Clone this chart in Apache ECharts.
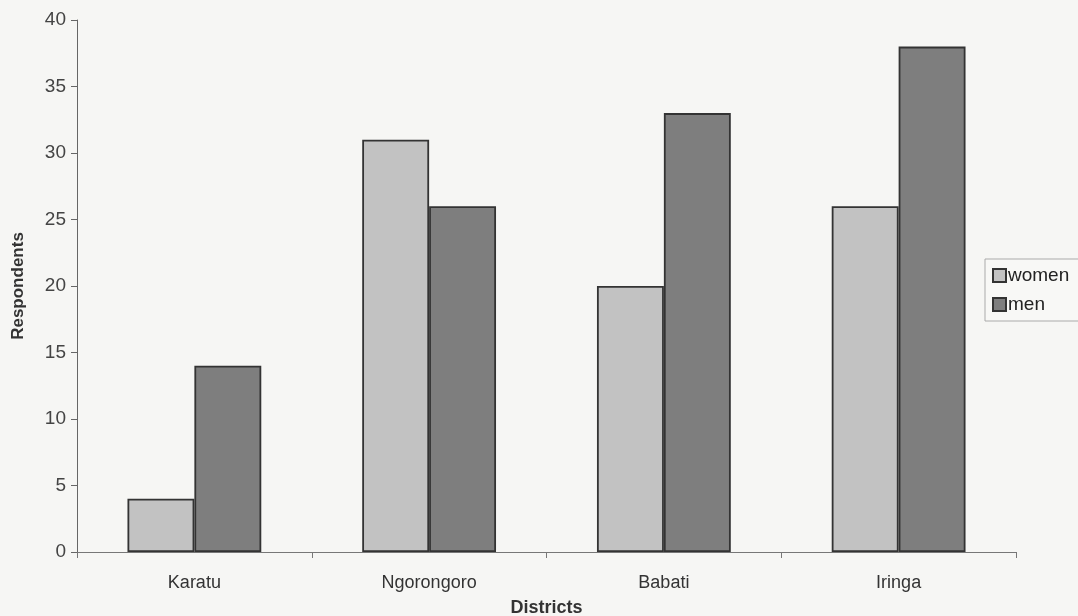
<!DOCTYPE html>
<html>
<head>
<meta charset="utf-8">
<script src="https://cdn.jsdelivr.net/npm/echarts@6/dist/echarts.min.js"></script>
<style>
html,body{margin:0;padding:0;background:#f6f6f4;}
#chart{width:1078px;height:616px;}
</style>
</head>
<body>
<div id="chart"></div>
<script>
var categories = ['Karatu', 'Ngorongoro', 'Babati', 'Iringa'];
var women = [4, 31, 20, 26];
var men = [14, 26, 33, 38];
var yTicks = [0, 5, 10, 15, 20, 25, 30, 35, 40];

var chart = echarts.init(document.getElementById('chart'));
var font = '"Liberation Sans", Arial, sans-serif';
chart.setOption({
  backgroundColor: '#f6f6f4',
  animation: false,
  grid: {left: 77, right: 62, top: 20, bottom: 64, containLabel: false, outerBoundsMode: 'none'},
  legend: {
    data: ['women', 'men'],
    orient: 'vertical',
    left: 985, top: 259,
    itemWidth: 13, itemHeight: 13, itemGap: 10,
    padding: [7, 12, 7, 7],
    borderColor: '#aaa', borderWidth: 1,
    backgroundColor: '#f8f8f6',
    icon: 'rect',
    textStyle: {fontFamily: font, fontSize: 19, color: '#222', padding: [0, 0, 0, -3]}
  },
  xAxis: {
    type: 'category',
    data: categories,
    name: 'Districts',
    nameLocation: 'middle',
    nameGap: 47,
    nameTextStyle: {fontFamily: font, fontSize: 18, fontWeight: 'bold', color: '#333'},
    axisLine: {lineStyle: {color: '#777', width: 1}},
    axisTick: {show: true, alignWithLabel: false, length: 6, lineStyle: {color: '#777'}},
    axisLabel: {fontFamily: font, fontSize: 18, color: '#333', margin: 22}
  },
  yAxis: {
    type: 'value',
    min: 0, max: 40, interval: 5,
    name: 'Respondents',
    nameLocation: 'middle',
    nameGap: 50,
    nameTextStyle: {fontFamily: font, fontSize: 17, fontWeight: 'bold', color: '#333'},
    axisLine: {show: true, lineStyle: {color: '#666', width: 1}},
    axisTick: {show: true, length: 6, lineStyle: {color: '#666'}},
    axisLabel: {fontFamily: font, fontSize: 19, color: '#444', margin: 11,
      formatter: function (v) { return yTicks.indexOf(v) >= 0 ? String(v) : ''; }},
    splitLine: {show: false}
  },
  series: [
    {
      name: 'women', type: 'bar', data: women,
      barGap: '0%', barCategoryGap: '43%',
      itemStyle: {color: '#c2c2c2', borderColor: '#333', borderWidth: 1.8}
    },
    {
      name: 'men', type: 'bar', data: men,
      barGap: '0%', barCategoryGap: '43%',
      itemStyle: {color: '#7e7e7e', borderColor: '#333', borderWidth: 1.8}
    }
  ]
});
</script>
</body>
</html>
